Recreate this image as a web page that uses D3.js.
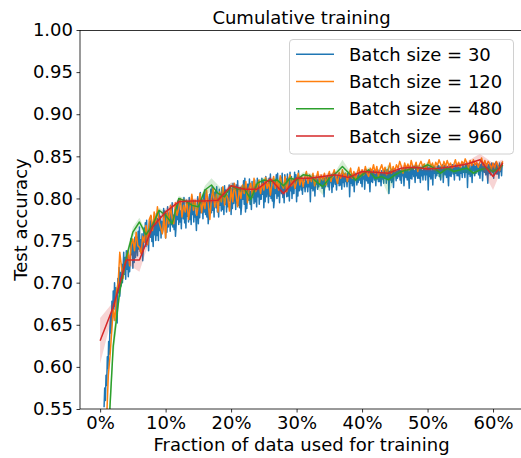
<!DOCTYPE html>
<html>
<head>
<meta charset="utf-8">
<script src="https://cdn.jsdelivr.net/npm/d3@7"></script>
<style>
  body { margin: 0; background: #fff; }
  text { font-family: "DejaVu Sans", sans-serif; fill: #000; }
</style>
</head>
<body>
<svg id="chart" width="521" height="458"></svg>
<script>
// Test accuracy (thousandths) as more of the training data is used.
// Batch size 30: evaluated every 0.1% of the data, starting at 0.6%.
const acc30Start = 0.006, acc30Step = 0.001;
const acc30 = [
  552,575,560,590,578,612,598,630,615,648,
  662,640,678,655,690,668,700,672,694,682,
  652,705,688,718,684,712,696,722,700,716,
  736,710,730,704,738,716,733,707,727,713,
  727,752,733,749,717,746,724,754,730,743,
  754,732,761,740,766,737,751,734,758,726,
  741,765,749,771,743,774,746,759,738,767,
  773,754,779,749,764,743,776,757,771,750,
  782,756,776,750,784,762,779,753,773,759,
  763,788,769,785,753,782,760,790,766,779,
  783,761,790,769,795,766,780,763,787,755,
  767,791,775,797,769,800,772,785,764,793,
  795,776,801,771,786,765,798,779,793,772,
  801,775,795,769,803,781,798,772,792,778,
  780,762,786,802,770,799,777,807,783,796,
  798,776,805,784,810,781,795,778,802,770,
  781,805,789,811,783,814,786,799,778,807,
  808,789,814,784,799,778,811,792,806,785,
  813,787,807,781,815,793,810,784,804,790,
  791,816,797,813,781,810,788,818,794,807,
  809,787,816,795,821,792,806,789,813,781,
  791,815,799,821,793,824,784,809,788,817,
  817,798,823,793,808,787,820,801,815,794,
  822,796,816,790,824,802,819,793,813,799,
  799,824,805,821,789,818,796,826,802,815,
  817,795,824,803,829,800,814,797,821,789,
  798,822,806,828,800,830,803,816,795,824,
  825,806,830,801,816,795,828,809,823,802,
  829,803,823,797,831,809,826,800,820,806,
  806,831,812,828,796,825,803,833,809,822,
  822,810,820,805,823,813,819,808,824,814,
  820,808,824,814,825,796,822,812,823,809,
  813,823,803,825,817,824,811,822,814,825,
  826,815,822,812,825,817,802,824,814,825,
  818,827,814,825,810,826,819,828,807,824,
  814,825,828,817,824,810,827,818,829,815,
  828,816,826,811,829,819,825,814,830,820,
  826,814,830,820,831,802,828,818,829,815,
  818,828,808,830,822,829,816,827,819,830,
  822,831,818,829,814,830,823,832,811,828,
  832,821,828,818,831,823,808,830,820,831,
  819,830,833,822,829,815,832,823,834,820,
  832,820,830,815,833,823,829,818,834,824,
  830,818,834,824,835,806,832,822,833,819,
  823,833,813,835,827,834,821,832,824,835,
  826,835,822,833,818,834,827,836,815,832,
  836,825,832,822,835,827,812,834,824,835,
  823,834,837,826,833,819,836,827,838,824,
  836,824,834,819,837,827,833,822,838,828,
  834,822,838,828,839,810,836,826,837,823,
  826,836,816,838,830,837,824,835,827,838,
  830,839,826,837,822,838,831,840,819,836,
  839,828,835,825,838,830,815,837,827,838,
  826,837,840,829,836,822,839,830,841,827,
  839,827,837,822,840,830,836,825,841,831,
  837,825,841,831,842,813,839,829,840,826,
  829,839,819,841,833,840,827,838,830,841,
  832,841,828,839,824,840,833,842,821,838,
  842,831,838,828,841,833,818,840,830,841,
  828,839,842,831,838,824,841,832,843,829,
  841,829,839,824,842,832,838,827,843
];

// Batch size 120: evaluated every 0.25% of the data, starting at 1%.
const acc120Start = 0.01, acc120Step = 0.0025;
const acc120 = [
  540,590,612,640, 668,655,690,700, 736,719,705,722, 728,738,720,745, 752,738,760,744,
  742,735,755,748, 768,745,775,780, 762,784,770,790, 772,765,758,780, 753,785,770,792,
  776,770,795,780, 788,800,778,792, 784,797,775,790, 805,786,798,780, 792,806,783,798,
  788,810,794,775, 800,812,790,805, 784,808,796,814, 792,806,800,785, 812,796,818,804,
  790,812,800,816, 806,820,795,812, 818,802,824,808, 814,822,806,818, 810,825,812,820,
  804,818,826,812, 822,810,827,816, 812,826,808,822, 828,815,823,812, 820,830,816,826,
  814,825,832,818, 828,820,830,815, 824,832,819,828, 822,830,816,826, 832,820,828,834,
  825,818,831,824, 834,826,830,820, 828,836,824,832, 822,830,837,826, 834,828,838,830,
  826,836,832,840, 830,838,826,835, 840,832,837,828, 834,842,830,838, 832,840,836,844,
  838,830,842,835, 841,834,845,838, 836,843,832,840, 844,838,841,835, 840,846,837,842,
  835,843,839,846, 841,836,844,838, 845,839,842,836, 840,846,838,843, 837,844,840,847,
  842,836,845,839, 846,840,843,837, 843,848,839,845, 838,844,841,835, 842,836,844,839,
  833,840,844
];

// Batch size 480: mean accuracy and confidence half-width (thousandths).
const frac480 = [
  0.01,0.02,0.03,0.04,0.05,0.06,0.07,0.08,0.09,0.10,
  0.11,0.12,0.13,0.14,0.15,0.16,0.17,0.18,0.19,0.20,
  0.21,0.22,0.23,0.24,0.25,0.26,0.27,0.28,0.29,0.30,
  0.31,0.32,0.33,0.34,0.35,0.36,0.37,0.38,0.39,0.40,
  0.41,0.42,0.43,0.44,0.45,0.46,0.47,0.48,0.49,0.50,
  0.51,0.52,0.53,0.54,0.55,0.56,0.57,0.58,0.59,0.60,
  0.61,0.615
];
const acc480 = [
  480,625,690,730,760,772,757,768,786,780,
  770,800,797,792,790,810,816,806,802,815,
  811,812,799,818,822,820,822,815,824,822,
  828,827,820,814,824,830,838,830,822,828,
  834,824,826,822,828,832,834,837,836,840,
  836,830,836,832,834,836,830,834,836,832,
  836,840
];
const ci480 = [
  20,15,8,5,6,5,4,4,3,4,
  4,3,3,3,4,5,8,10,6,4,
  3,4,8,4,3,3,3,4,3,3,
  3,3,7,10,4,3,8,4,3,3,
  3,3,4,18,4,3,3,3,3,3,
  3,8,3,3,3,6,3,3,3,4,
  3,3
];

// Batch size 960: mean accuracy and confidence half-width (thousandths).
const frac960 = [
  0,0.02,0.04,0.06,0.08,0.10,0.12,0.14,0.16,0.18,0.20,0.22,0.24,0.26,0.28,0.30,
  0.32,0.34,0.36,0.38,0.40,0.42,0.44,0.46,0.48,0.50,0.52,0.54,0.56,0.58,0.60,0.615
];
const acc960 = [
  631,671,727,727,766,784,796,797,797,798,815,811,811,823,806,824,
  824,826,828,825,832,831,830,836,837,835,836,838,841,846,826,842
];
const ci960 = [
  27,6,4,14,5,4,3,3,3,3,4,3,3,3,4,3,
  3,3,3,3,3,3,3,3,3,3,3,3,3,7,16,4
];

const seriesNames = ["Batch size = 30", "Batch size = 120", "Batch size = 480", "Batch size = 960"];
const seriesColors = ["#1f77b4", "#ff7f0e", "#2ca02c", "#d62728"];
const yTicks = [0.55, 0.60, 0.65, 0.70, 0.75, 0.80, 0.85, 0.90, 0.95, 1.00];
const xTicks = [0, 0.1, 0.2, 0.3, 0.4, 0.5, 0.6];
const titleText = "Cumulative training";
const xLabel = "Fraction of data used for training";
const yLabel = "Test accuracy";

// ---- assemble series ----
const series = [
  { pts: acc30.map((v, i) => ({ f: acc30Start + i * acc30Step, v: v / 1000 })) },
  { pts: acc120.map((v, i) => ({ f: acc120Start + i * acc120Step, v: v / 1000 })) },
  { pts: frac480.map((f, i) => ({ f, v: acc480[i] / 1000, ci: ci480[i] / 1000 })) },
  { pts: frac960.map((f, i) => ({ f, v: acc960[i] / 1000, ci: ci960[i] / 1000 })) }
].map((s, i) => ({ ...s, name: seriesNames[i], color: seriesColors[i] }));

// ---- layout ----
const box = { left: 80, right: 523, top: 30, bottom: 409 };
const fMax = d3.max(series, s => d3.max(s.pts, d => d.f));
const pad = 0.05 * fMax;

const x = d3.scaleLinear().domain([-pad, fMax + pad]).range([box.left, box.right]);
const y = d3.scaleLinear().domain([0.55, 1.0]).range([box.bottom, box.top]);

const svg = d3.select("#chart");

svg.append("defs").append("clipPath").attr("id", "plotClip")
  .append("rect")
  .attr("x", box.left).attr("y", box.top)
  .attr("width", box.right - box.left).attr("height", box.bottom - box.top);

const plotG = svg.append("g").attr("clip-path", "url(#plotClip)");

const line = d3.line().x(d => x(d.f)).y(d => y(d.v));
const band = d3.area().x(d => x(d.f)).y0(d => y(d.v - d.ci)).y1(d => y(d.v + d.ci));

series.forEach(s => {
  plotG.append("path")
    .datum(s.pts)
    .attr("d", line)
    .attr("fill", "none")
    .attr("stroke", s.color)
    .attr("stroke-width", 1.5)
    .attr("stroke-linejoin", "round");
  if (s.pts[0].ci !== undefined) {
    plotG.append("path")
      .datum(s.pts)
      .attr("d", band)
      .attr("fill", s.color)
      .attr("fill-opacity", 0.2)
      .attr("stroke", "none");
  }
});

// ---- axes ----
const yAxis = d3.axisLeft(y).tickValues(yTicks).tickFormat(d3.format(".2f"))
  .tickSize(3.5).tickPadding(3.5);
const xAxis = d3.axisBottom(x).tickValues(xTicks).tickFormat(d3.format(".0%"))
  .tickSize(3.5).tickPadding(3.5);

const gy = svg.append("g").attr("transform", `translate(${box.left},0)`).call(yAxis);
const gx = svg.append("g").attr("transform", `translate(0,${box.bottom})`).call(xAxis);
[gy, gx].forEach(g => {
  g.select(".domain").remove();
  g.selectAll(".tick line").attr("stroke", "#000").attr("stroke-width", 0.8);
  g.selectAll(".tick text").attr("font-size", 18).attr("font-family", "DejaVu Sans").attr("fill", "#000");
});

// spines: left, bottom, top
svg.append("line").attr("x1", box.left).attr("x2", box.left).attr("y1", box.top).attr("y2", box.bottom)
  .attr("stroke", "#000").attr("stroke-width", 0.8);
svg.append("line").attr("x1", box.left).attr("x2", box.right).attr("y1", box.bottom).attr("y2", box.bottom)
  .attr("stroke", "#000").attr("stroke-width", 0.8);
svg.append("line").attr("x1", box.left).attr("x2", box.right).attr("y1", box.top + 0.5).attr("y2", box.top + 0.5)
  .attr("stroke", "#000").attr("stroke-width", 0.8);

// ---- titles ----
const cx = (box.left + box.right) / 2;
svg.append("text").attr("x", cx).attr("y", 24).attr("text-anchor", "middle")
  .attr("font-size", 18).text(titleText);
svg.append("text").attr("x", cx).attr("y", 451).attr("text-anchor", "middle")
  .attr("font-size", 18).text(xLabel);
svg.append("text")
  .attr("transform", `translate(27,${(box.top + box.bottom) / 2}) rotate(-90)`)
  .attr("text-anchor", "middle").attr("font-size", 18).text(yLabel);

// ---- legend ----
const lg = svg.append("g");
lg.append("rect")
  .attr("x", 289.5).attr("y", 39.5).attr("width", 224).attr("height", 114.5)
  .attr("rx", 3.5).attr("ry", 3.5)
  .attr("fill", "#fff").attr("fill-opacity", 0.8)
  .attr("stroke", "#d0d0d0").attr("stroke-width", 1);
series.forEach((s, i) => {
  const ry = 54.3 + i * 27.2;
  lg.append("line").attr("x1", 296).attr("x2", 334).attr("y1", ry).attr("y2", ry)
    .attr("stroke", s.color).attr("stroke-width", 1.5);
  lg.append("text").attr("x", 349).attr("y", ry + 6.6).attr("font-size", 18).text(s.name);
});
</script>
</body>
</html>
